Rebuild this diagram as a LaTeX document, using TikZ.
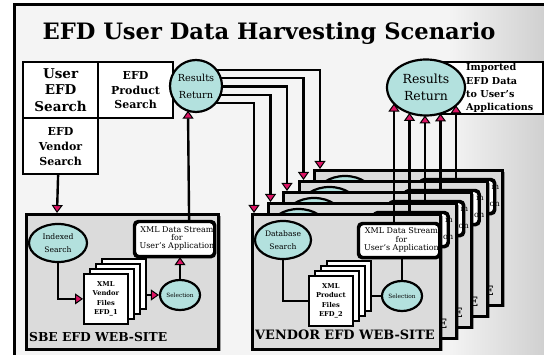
\documentclass[tikz,border=0pt]{standalone}
\usepackage{fontspec}
\setmainfont{DejaVu Serif}
\usetikzlibrary{arrows.meta,shapes.geometric,calc,shadows}

\definecolor{bgmain}{HTML}{F4F4F4}
\definecolor{bgedge}{HTML}{D0D0D0}
\definecolor{panelgray}{HTML}{DBDBDB}
\definecolor{aqua}{HTML}{B3E1DE}
\definecolor{tippink}{HTML}{DC1464}

\pgfdeclarehorizontalshading{bgfade}{100bp}{color(0bp)=(bgmain); color(66bp)=(bgmain); color(75bp)=(bgedge); color(100bp)=(bgedge)}

\tikzset{
  conn/.style={line width=2.4pt},
  thinconn/.style={line width=2pt},
  tipped/.style={-{Triangle[length=8pt,width=11pt,fill=tippink,line width=1pt]}},
  panel/.style={draw, fill=panelgray, line width=3pt, anchor=north west, inner sep=0pt,
    drop shadow={shadow xshift=2.5pt, shadow yshift=-2pt, opacity=0.35, fill=black}},
  qbox/.style={draw, fill=white, line width=2.2pt, anchor=north west, inner sep=0pt,
    align=center, minimum width=75pt, minimum height=56pt},
  bubble/.style={ellipse, draw, fill=aqua, line width=2.2pt, inner sep=0pt, align=center},
  page/.style={draw, fill=white, line width=1.8pt, anchor=north west, inner sep=0pt,
    minimum width=44pt, minimum height=50pt, align=center,
    font=\fontsize{6.7}{9.5}\selectfont\bfseries},
  xmlbox/.style={draw, fill=white, line width=2.2pt, rounded corners=4pt,
    anchor=north west, inner sep=0pt, minimum width=80pt, minimum height=33pt},
  xmltext/.style={align=center, inner sep=0pt, font=\fontsize{8}{8.3}\selectfont},
  xmlframe/.style={draw, line width=2.2pt, rounded corners=4pt},
  sitelabel/.style={anchor=base west, inner sep=0pt, font=\fontsize{12.9}{13}\selectfont\bfseries},
}

% one vendor web-site panel: #1 index (0 = front), (#2,#3) top-left corner
\newcommand\vendorsite[3]{%
  \begin{scope}[shift={(#2,#3)}]
    \node[panel, minimum width=188pt, minimum height=135pt] (v#1box) at (0,0) {};
    \ifnum#1=0
      \node[bubble, minimum width=56pt, minimum height=38pt,
        font=\fontsize{7.6}{13}\selectfont] (v#1db) at (32,27) {Database\\Search};
      \node[xmlbox] (v#1xml) at (107,10) {};
      \node[xmltext] (v#1xmltext) at (150.5,27) {XML Data Stream\\for\\User's Application};
      \draw[xmlframe] (v#1xml.north west) rectangle (v#1xml.south east);
      \foreach \j in {3,2,1} {\node[page] (v#1f\j) at ({57+6*\j},{62-5*\j}) {};}
      \node[page] (v#1f0) at (57,62) {XML\\Product\\Files\\EFD\_2};
      \node[bubble, minimum width=40pt, minimum height=30pt,
        font=\fontsize{5.8}{6}\selectfont] (v#1sel) at (151,83) {Selection};
      \draw[thinconn] (v#1db.south) |- (v#1f0.west);
      \draw[thinconn] (v#1f3.east |- v#1sel.west) -- (v#1sel.west);
      \draw[thinconn] (v#1sel.north) -- (v#1sel.north |- v#1xml.south);
      \node[sitelabel] (v#1label) at (4,127) {VENDOR EFD WEB-SITE};
    \else
      % only the top and right edge of a rear panel stay in view
      \node[bubble, minimum width=56pt, minimum height=38pt] (v#1db) at (32,26) {};
      \node[xmlbox, minimum width=73pt] (v#1xml) at (107,10) {};
      \node[anchor=base west, inner sep=0pt, font=\fontsize{8}{8.3}\selectfont] (v#1xmlm) at (178.5,20.8) {m};
      \node[anchor=base west, inner sep=0pt, font=\fontsize{8}{8.3}\selectfont] (v#1xmlon) at (176.5,37.4) {on};
      \draw[xmlframe] (v#1xml.north west) rectangle (v#1xml.south east);
      \node[anchor=base east, inner sep=0pt, font=\fontsize{12.9}{13}\selectfont\bfseries] (v#1label) at (181,127) {E};
    \fi
  \end{scope}}

\begin{document}
\begin{tikzpicture}[x=1pt,y=-1pt]
\useasboundingbox (0,0) rectangle (544,355);

% background and frame
\shade[shading=bgfade] (14,5) rectangle (544,355);
\draw[line width=3pt] (14,355) -- (14,5) -- (544,5);

\node[anchor=base, inner sep=0pt, font=\fontsize{22.6}{22}\selectfont\bfseries] (title) at (269,40)
  {EFD User Data Harvesting Scenario};

% search menu
\node[qbox, font=\fontsize{13.5}{16.5}\selectfont\bfseries] (usersearch) at (22,61) {User\\EFD\\Search};
\node[qbox, font=\fontsize{11}{14.5}\selectfont\bfseries] (productsearch) at (97,61) {EFD\\Product\\Search};
\node[qbox, font=\fontsize{11}{15}\selectfont\bfseries] (vendorsearch) at (22,117) {EFD\\Vendor\\Search};

\node[bubble, minimum width=52pt, minimum height=52pt, font=\fontsize{9.7}{17}\selectfont]
  (srr) at (196,86) {Results\\Return};

% imported data
\node[draw, fill=white, line width=2pt, anchor=north west, inner sep=0pt,
  minimum width=102pt, minimum height=52pt] (impbox) at (440,61) {};
\node[anchor=north west, align=left, inner sep=0pt, font=\fontsize{9.6}{13.2}\selectfont\bfseries]
  (imptext) at (466,63.5) {Imported\\EFD Data\\to User's\\Applications};
\node[bubble, minimum width=78pt, minimum height=56pt, font=\fontsize{12.5}{17}\selectfont]
  (brr) at (426,87.5) {Results\\Return};

% SBE web-site
\node[panel, minimum width=192pt, minimum height=135pt] (sbebox) at (25,213) {};
\node[bubble, minimum width=58pt, minimum height=38pt, font=\fontsize{7.6}{13}\selectfont]
  (idx) at (58,243) {Indexed\\Search};
\node[xmlbox, minimum width=79pt, minimum height=34pt] (sxml) at (134,221) {};
\node[xmltext] (sxmltext) at (177,238.5) {XML Data Stream\\for\\User's Application};
\draw[xmlframe] (sxml.north west) rectangle (sxml.south east);
\foreach \j in {3,2,1} {\node[page] (sf\j) at ({83+6*\j},{273-5*\j}) {};}
\node[page] (sf0) at (83,273) {XML\\Vendor\\Files\\EFD\_1};
\node[bubble, minimum width=40pt, minimum height=30pt, font=\fontsize{5.8}{6}\selectfont]
  (ssel) at (180,295) {Selection};
\node[sitelabel, font=\fontsize{12.3}{13}\selectfont\bfseries] (sbelabel) at (29,342) {SBE EFD WEB-SITE};

\draw[conn, tipped] (idx.south) |- (sf0.west);
\draw[conn, tipped] (sf3.east |- ssel.west) -- (ssel.west);
\draw[conn, tipped] (ssel.north) -- (ssel.north |- sxml.south);
\draw[conn, tipped] ($(sxml.north)+(14.5,0)$) -- ($(srr.center)+(-8,24.7)$);
\draw[conn, tipped] ($(vendorsearch.south)+(-2.5,0)$) -- ($(sbebox.north west)+(32,0)$);

% vendor web-sites, back to front
\foreach \k/\px/\py in {4/313/169, 3/297.5/180, 2/282/191, 1/266.5/202, 0/251/213}
  {\vendorsite{\k}{\px}{\py}}

% queries fanned out to the vendor sites
\foreach \k in {0,...,4} {
  \pgfmathsetmacro\dy{17-8.25*\k}
  \pgfmathsetmacro\dx{sqrt(26*26-\dy*\dy)}
  \pgfmathsetmacro\off{3+\k}
  \draw[conn, tipped] ($(srr.center)+(\dx,\dy)$) -| ($(v\k box.north west)+(\off,0)$);
}

% results streamed back
\foreach \k in {0,...,4} {
  \pgfmathsetmacro\bx{-32+15.5*\k}
  \pgfmathsetmacro\by{28*sqrt(1-(\bx/39)^2)}
  \draw[conn, tipped] ($(v\k xml.north west)+(36,0)$) -- ($(brr.center)+(\bx,\by)$);
}
\end{tikzpicture}
\end{document}
